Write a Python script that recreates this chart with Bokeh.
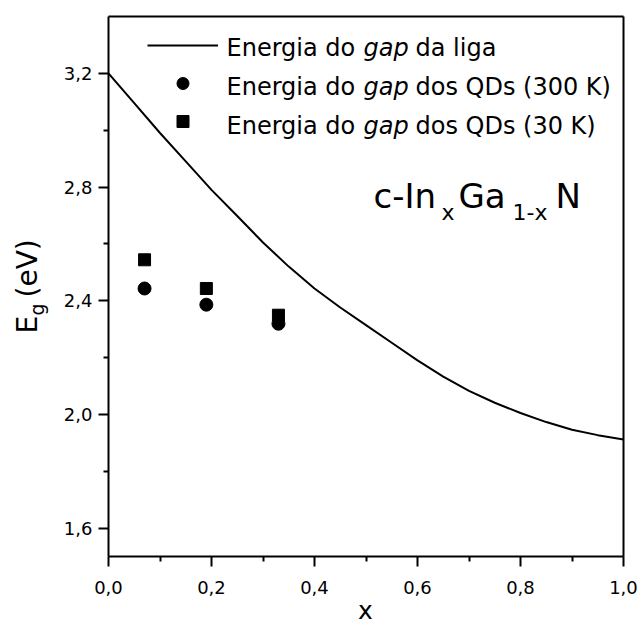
import math

from bokeh.embed import file_html
from bokeh.models import (CustomJSTickFormatter, FixedTicker, Label, Legend,
                          LegendItem, LinearAxis, Range1d)
from bokeh.core.properties import value
from bokeh.plotting import figure
from bokeh.resources import INLINE

# Alloy band-gap curve for cubic InGaN
alloy_x = [0.00, 0.05, 0.10, 0.15, 0.20, 0.25, 0.30, 0.35, 0.40, 0.45, 0.50,
           0.55, 0.60, 0.65, 0.70, 0.75, 0.80, 0.85, 0.90, 0.95, 1.00]
alloy_eg = [3.200, 3.095, 2.990, 2.890, 2.790, 2.698, 2.605, 2.520, 2.443,
            2.376, 2.314, 2.252, 2.190, 2.133, 2.083, 2.041, 2.005, 1.973,
            1.946, 1.927, 1.912]

# Quantum-dot gap energies
qd_x = [0.07, 0.19, 0.33]
qd_eg_300k = [2.443, 2.386, 2.319]
qd_eg_30k = [2.544, 2.443, 2.349]

x_ticks = [0.0, 0.2, 0.4, 0.6, 0.8, 1.0]
x_minor = [0.1, 0.3, 0.5, 0.7, 0.9]
y_ticks = [1.6, 2.0, 2.4, 2.8, 3.2]
y_minor = [1.8, 2.2, 2.6, 3.0]
x_lim = (0.0, 1.0)
y_lim = (1.5, 3.4)

FONT = "DejaVu Sans"
W, H = 639, 625
# box of the axes on the canvas, in pixels
BOX_L, BOX_R, BOX_T, BOX_B = 108, 623, 16, 556

# the frame fills the whole canvas; the axes sit at fixed data positions
px_x = (x_lim[1] - x_lim[0]) / (BOX_R - BOX_L)
px_y = (y_lim[1] - y_lim[0]) / (BOX_B - BOX_T)
x_range = Range1d(x_lim[0] - BOX_L * px_x, x_lim[1] + (W - BOX_R) * px_x)
y_range = Range1d(y_lim[0] - (H - BOX_B) * px_y, y_lim[1] + BOX_T * px_y)

p = figure(width=W, height=H, output_backend="svg", toolbar_location=None,
           x_range=x_range, y_range=y_range,
           min_border=0, min_border_left=0, min_border_right=0,
           min_border_top=0, min_border_bottom=0)
p.grid.visible = False
p.background_fill_color = "white"
p.border_fill_color = "white"
p.outline_line_color = None

fmt = CustomJSTickFormatter(code="return tick.toFixed(1).replace('.', ',')")
xa, ya = p.xaxis[0], p.yaxis[0]
xa.fixed_location = y_lim[0]
xa.bounds = x_lim
ya.fixed_location = x_lim[0]
ya.bounds = y_lim
for ax, ticks, minor in ((xa, x_ticks, x_minor), (ya, y_ticks, y_minor)):
    ax.ticker = FixedTicker(ticks=ticks, minor_ticks=minor)
    ax.formatter = fmt
    ax.axis_line_width = 2
    ax.major_tick_line_width = 2
    ax.minor_tick_line_width = 2
    ax.major_tick_out = 10
    ax.major_tick_in = 0
    ax.minor_tick_out = 5
    ax.minor_tick_in = 0
    ax.major_label_text_font = FONT
    ax.major_label_text_font_size = "18px"
    ax.major_label_text_color = "black"
xa.major_label_standoff = 14
ya.major_label_standoff = 6

# closing lines of the box, top and right
top = LinearAxis(fixed_location=y_lim[1], bounds=x_lim,
                 ticker=FixedTicker(ticks=[]), axis_line_width=2)
right = LinearAxis(fixed_location=x_lim[1], bounds=y_lim,
                   ticker=FixedTicker(ticks=[]), axis_line_width=2)
for ax in (top, right):
    ax.major_tick_line_color = None
    ax.minor_tick_line_color = None
    ax.major_label_text_alpha = 0
p.add_layout(top, "above")
p.add_layout(right, "right")

r_line = p.line(alloy_x, alloy_eg, line_color="black", line_width=2)
r_circ = p.scatter(qd_x, qd_eg_300k, marker="circle", size=13,
                   fill_color="black", line_color="black")
r_sq = p.scatter(qd_x, qd_eg_30k, marker="square", size=12,
                 fill_color="black", line_color="black")

legend = Legend(items=[LegendItem(label=value(""), renderers=[r_line]),
                       LegendItem(label=value(""), renderers=[r_circ]),
                       LegendItem(label=value(""), renderers=[r_sq])],
                location=(147, H - 136), glyph_width=71, glyph_height=30,
                spacing=8, padding=0, margin=0, label_standoff=0,
                label_width=0, label_height=0,
                border_line_alpha=0, background_fill_alpha=0)
p.add_layout(legend)


def add_text(text, cx, cy, size, style="normal", align="left", angle=0.0):
    """Place a text with its vertical middle at canvas pixel (cx, cy)."""
    p.add_layout(Label(x=cx, y=H - cy, x_units="screen", y_units="screen",
                       text=text, text_font=FONT,
                       text_font_size=f"{size}px", text_font_style=style,
                       text_align=align, text_baseline="middle",
                       text_color="black", angle=angle))


# legend texts, with "gap" in italics
for cy, tail in ((47.5, "da liga"), (86.5, "dos QDs (300 K)"),
                 (125.5, "dos QDs (30 K)")):
    add_text("Energia do", 226, cy, 24)
    add_text("gap", 363, cy, 24, style="italic")
    add_text(tail, 415, cy, 24)

# compound name c-In(x)Ga(1-x)N, pieces set one after another
add_text("c-In", 373, 195, 34)
add_text("x", 441, 212, 22)
add_text("Ga", 458, 195, 34)
add_text("1-x", 512, 212, 22)
add_text("N", 555, 195, 34)

# axis titles
add_text("E", 27, 333, 28, angle=math.pi / 2)
add_text("g", 36, 315, 19, angle=math.pi / 2)
add_text("(eV)", 27, 297, 28, angle=math.pi / 2)
add_text("x", 365, 610, 25, align="center")

open("out.html", "w").write(file_html(p, INLINE))
